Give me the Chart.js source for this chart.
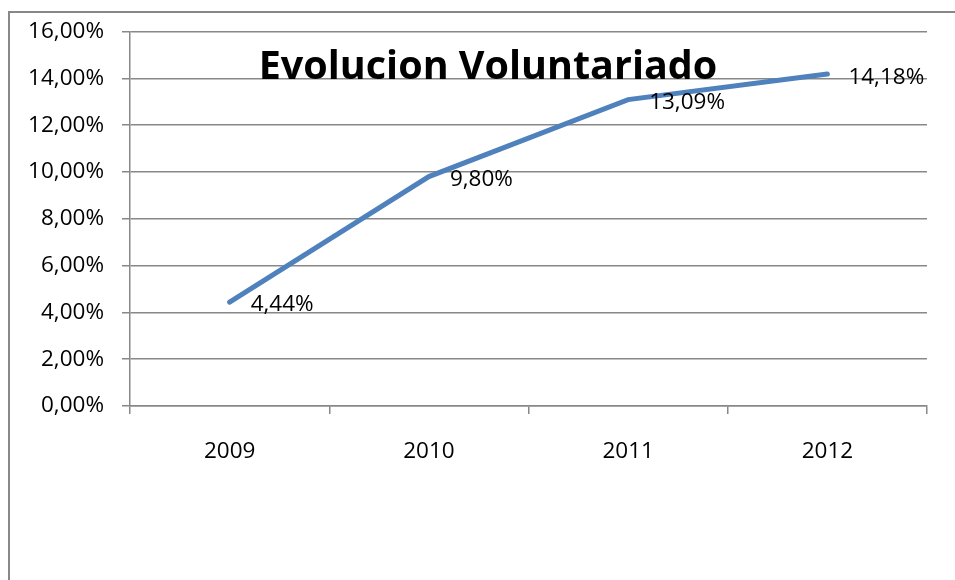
<!DOCTYPE html>
<html>
<head>
<meta charset="utf-8">
<script src="https://cdn.jsdelivr.net/npm/chart.js@4.4.1/dist/chart.umd.min.js"></script>
<style>
  html, body { margin: 0; padding: 0; background: #fff; }
  #wrap { position: relative; width: 955px; height: 580px; overflow: hidden; }
  #frame { position: absolute; left: 8px; top: 11px; width: 1000px; height: 700px;
           border-left: 2px solid #888; border-top: 2px solid #888; }
  canvas { position: absolute; left: 0; top: 0; }
</style>
</head>
<body>
<div id="wrap">
  <div id="frame"></div>
  <canvas id="chart" width="955" height="580"></canvas>
</div>
<script>
const years = ['2009', '2010', '2011', '2012'];
const voluntariado = [4.44, 9.80, 13.09, 14.18];
const titleText = 'Evolucion Voluntariado';

const fmt = v => v.toFixed(2).replace('.', ',') + '%';

// etiquetas de valor a la derecha de cada punto + titulo dentro del area
const overlay = {
    id: 'overlay',
    afterDatasetsDraw(chart) {
        const ctx = chart.ctx;
        const meta = chart.getDatasetMeta(0);
        ctx.save();
        ctx.font = '22.5px "Open Sans"';
        ctx.fillStyle = '#000';
        ctx.textAlign = 'left';
        ctx.textBaseline = 'middle';
        meta.data.forEach((pt, i) => {
            ctx.fillText(fmt(voluntariado[i]), pt.x + 21, pt.y + 3);
        });
        ctx.font = 'bold 39.5px "Open Sans"';
        ctx.textAlign = 'center';
        ctx.textBaseline = 'alphabetic';
        ctx.fillText(titleText, 488, 79);
        ctx.restore();
    }
};

new Chart(document.getElementById('chart'), {
    type: 'line',
    data: {
        labels: years,
        datasets: [{
            data: voluntariado,
            borderColor: '#4F81BD',
            borderWidth: 5,
            borderCapStyle: 'round',
            pointRadius: 0,
            tension: 0
        }]
    },
    options: {
        responsive: false,
        animation: false,
        devicePixelRatio: 1,
        layout: { padding: { top: 29, right: 28, left: 0, bottom: 0 } },
        plugins: {
            legend: { display: false },
            tooltip: { enabled: false },
            title: { display: false }
        },
        scales: {
            x: {
                offset: true,
                grid: {
                    offset: true,
                    drawOnChartArea: false,
                    drawTicks: true,
                    tickLength: 8,
                    color: '#888',
                    lineWidth: 1.5
                },
                border: { color: '#888', width: 1.5 },
                ticks: {
                    color: '#000',
                    padding: 24,
                    font: { family: 'Open Sans', size: 22.5 }
                },
                afterFit(scale) { scale.height = 174; }
            },
            y: {
                min: 0,
                max: 16,
                grid: {
                    color: '#888',
                    lineWidth: 1.5,
                    tickLength: 8
                },
                border: { color: '#888', width: 1.5 },
                ticks: {
                    stepSize: 2,
                    color: '#000',
                    padding: 18,
                    font: { family: 'Open Sans', size: 22.5 },
                    callback: v => fmt(v)
                },
                afterFit(scale) { scale.width = 130; }
            }
        }
    },
    plugins: [overlay]
});
</script>
</body>
</html>
